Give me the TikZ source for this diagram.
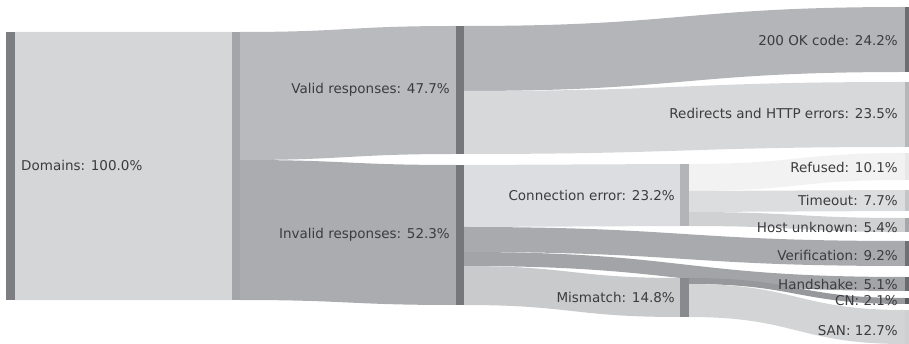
\documentclass[tikz,border=0pt]{standalone}
\usepackage{fontspec}
\setmainfont{DejaVu Sans}
\definecolor{txt}{HTML}{3C3C3E}
\definecolor{cDomF}{HTML}{D5D6D8}
\definecolor{cDomB}{HTML}{7D7E82}
\definecolor{cL2B}{HTML}{A4A5A8}
\definecolor{cValF}{HTML}{B9BABD}
\definecolor{cInvF}{HTML}{ABACAF}
\definecolor{cL3B}{HTML}{76777B}
\definecolor{cOkF}{HTML}{B4B5B8}
\definecolor{cRedF}{HTML}{D7D8DA}
\definecolor{cConF}{HTML}{DCDDE0}
\definecolor{cVerF}{HTML}{A9AAAD}
\definecolor{cHanF}{HTML}{A3A4A7}
\definecolor{cMisF}{HTML}{C9CACC}
\definecolor{cConB}{HTML}{B3B4B7}
\definecolor{cMisB}{HTML}{898A8D}
\definecolor{cRefF}{HTML}{F2F2F3}
\definecolor{cTimF}{HTML}{DCDDDF}
\definecolor{cHosF}{HTML}{D0D1D3}
\definecolor{cCNF}{HTML}{97989B}
\definecolor{cSANF}{HTML}{D3D4D6}
\definecolor{bOk}{HTML}{6C6D70}
\definecolor{bRed}{HTML}{B6B7B9}
\definecolor{bRef}{HTML}{E8E8E9}
\definecolor{bTim}{HTML}{C4C5C7}
\definecolor{bHos}{HTML}{A6A7AA}
\definecolor{bVer}{HTML}{6F7073}
\definecolor{bHan}{HTML}{6A6B6E}
\definecolor{bCN}{HTML}{5A5B5E}
\definecolor{bSAN}{HTML}{CFD0D2}
% flow: x1, top1, bottom1, x2, top2, bottom2, colour
\newcommand\sankeyflow[7]{%
  \fill[#7] (#1,#2) .. controls ({(#1+#4)/2},#2) and ({(#1+#4)/2},#5) .. (#4,#5)
    -- (#4,#6) .. controls ({(#1+#4)/2},#6) and ({(#1+#4)/2},#3) .. (#1,#3) -- cycle;}
\tikzset{
  lbl/.style={font=\fontsize{13.5}{16}\selectfont, text=txt, inner sep=0pt},
  rlbl/.style={lbl, anchor=east},
  llbl/.style={lbl, anchor=west}
}
\begin{document}
\begin{tikzpicture}[x=1pt,y=-1pt]
\useasboundingbox (0,0) rectangle (909,344);
% flows
\sankeyflow{15}{32}{300}{232}{32}{300}{cDomF}
\sankeyflow{240}{32}{160}{456}{26}{154}{cValF}
\sankeyflow{240}{160}{300}{456}{165}{305}{cInvF}
\sankeyflow{464}{26}{91}{905}{7}{72}{cOkF}
\sankeyflow{464}{91}{154}{905}{82}{147}{cRedF}
\sankeyflow{464}{165}{227}{680}{164}{226}{cConF}
\sankeyflow{464}{227}{252}{905}{241}{266}{cVerF}
\sankeyflow{464}{252}{266}{905}{277}{291}{cHanF}
\sankeyflow{464}{266}{305}{680}{278}{317}{cMisF}
\sankeyflow{689}{164}{191}{905}{153}{180}{cRefF}
\sankeyflow{689}{191}{212}{905}{190}{211}{cTimF}
\sankeyflow{689}{212}{226}{905}{218}{232}{cHosF}
\sankeyflow{689}{278}{284}{905}{298}{304}{cCNF}
\sankeyflow{689}{284}{317}{905}{310}{344}{cSANF}
% bars
\fill[cDomB] (6,32) rectangle (15,300);
\fill[cL2B] (232,32) rectangle (240,300);
\fill[cL3B] (456,26) rectangle (464,154);
\fill[cL3B] (456,165) rectangle (464,305);
\fill[cConB] (680,164) rectangle (689,226);
\fill[cMisB] (680,278) rectangle (689,317);
\fill[bOk] (905,7) rectangle (909,72);
\fill[bRed] (905,82) rectangle (909,147);
\fill[bRef] (905,153) rectangle (909,180);
\fill[bTim] (905,190) rectangle (909,211);
\fill[bHos] (905,218) rectangle (909,232);
\fill[bVer] (905,241) rectangle (909,266);
\fill[bHan] (905,277) rectangle (909,291);
\fill[bCN] (905,298) rectangle (909,304);
\fill[bSAN] (905,310) rectangle (909,344);
% labels
\node[llbl] (dom) at (21,165) {Domains: 100.0\%};
\node[rlbl] (val) at (450,90) {Valid responses: 47.7\%};
\node[rlbl] (inv) at (450,235) {Invalid responses: 52.3\%};
\node[rlbl] (con) at (675,195) {Connection error: 23.2\%};
\node[rlbl] (mis) at (675,297) {Mismatch: 14.8\%};
\node[rlbl] (ok) at (898,40) {200 OK code: 24.2\%};
\node[rlbl] (red) at (898,113) {Redirects and HTTP errors: 23.5\%};
\node[rlbl] (ref) at (898,167) {Refused: 10.1\%};
\node[rlbl] (tim) at (898,200) {Timeout: 7.7\%};
\node[rlbl] (hos) at (898,227) {Host unknown: 5.4\%};
\node[rlbl] (ver) at (898,255) {Verification: 9.2\%};
\node[rlbl] (han) at (898,284) {Handshake: 5.1\%};
\node[rlbl] (cn) at (898,301) {CN: 2.1\%};
\node[rlbl] (san) at (898,331) {SAN: 12.7\%};
\end{tikzpicture}
\end{document}
